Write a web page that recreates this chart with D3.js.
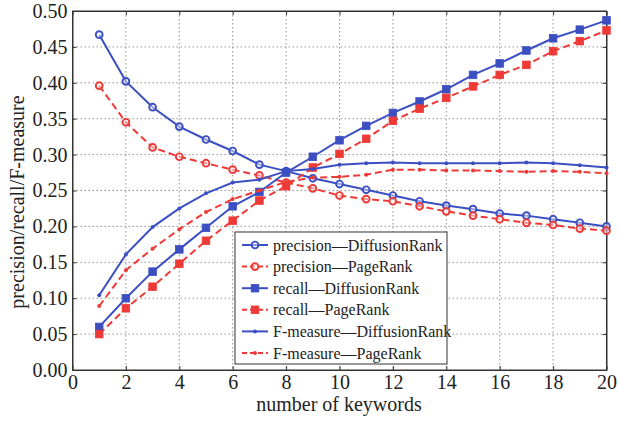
<!DOCTYPE html>
<html>
<head>
<meta charset="UTF-8">
<style>
  html, body { margin: 0; padding: 0; background: #fff; overflow: hidden; }
  svg { display: block; }
  svg text { font-family: "Liberation Serif", "DejaVu Serif", "Times New Roman", serif !important; }
</style>
</head>
<body>
<svg width="618" height="424"></svg>
<script src="https://d3js.org/d3.v7.min.js"></script>
<script>
const keywords = d3.range(1, 21);

const precisionDR = [0.467, 0.402, 0.366, 0.339, 0.321, 0.305, 0.286, 0.277, 0.267, 0.259,
                     0.251, 0.243, 0.235, 0.229, 0.224, 0.218, 0.215, 0.210, 0.205, 0.200];
const precisionPR = [0.396, 0.345, 0.310, 0.297, 0.288, 0.279, 0.271, 0.261, 0.253, 0.243,
                     0.238, 0.235, 0.228, 0.221, 0.215, 0.210, 0.205, 0.202, 0.197, 0.194];
const recallDR    = [0.060, 0.100, 0.137, 0.168, 0.198, 0.228, 0.248, 0.275, 0.297, 0.320,
                     0.340, 0.358, 0.374, 0.391, 0.411, 0.427, 0.445, 0.462, 0.474, 0.487];
const recallPR    = [0.050, 0.086, 0.116, 0.148, 0.180, 0.208, 0.236, 0.256, 0.282, 0.301,
                     0.322, 0.347, 0.364, 0.379, 0.395, 0.411, 0.425, 0.444, 0.458, 0.473];
const fmeasureDR  = [0.104, 0.161, 0.199, 0.225, 0.246, 0.261, 0.265, 0.277, 0.280, 0.286,
                     0.288, 0.289, 0.288, 0.288, 0.288, 0.288, 0.289, 0.288, 0.285, 0.282];
const fmeasurePR  = [0.089, 0.139, 0.169, 0.196, 0.220, 0.238, 0.250, 0.262, 0.268, 0.269,
                     0.272, 0.279, 0.279, 0.278, 0.278, 0.277, 0.276, 0.277, 0.276, 0.274];

const xTicks = d3.range(0, 21, 2);
const yTicks = d3.range(0, 0.501, 0.05);

const blue = "#3c4fc2";
const red = "#ee3a36";

const series = [
  { name: "precision\u2014DiffusionRank", values: precisionDR, color: blue, dash: null, marker: "circle" },
  { name: "precision\u2014PageRank", values: precisionPR, color: red, dash: "7,4", marker: "circle" },
  { name: "recall\u2014DiffusionRank", values: recallDR, color: blue, dash: null, marker: "square" },
  { name: "recall\u2014PageRank", values: recallPR, color: red, dash: "7,4", marker: "square" },
  { name: "F-measure\u2014DiffusionRank", values: fmeasureDR, color: blue, dash: null, marker: "dot" },
  { name: "F-measure\u2014PageRank", values: fmeasurePR, color: red, dash: "7,4", marker: "dot" }
];

const svg = d3.select("svg");
const plotL = 72.5, plotR = 606.5, plotT = 11, plotB = 370;

const x = d3.scaleLinear().domain([0, 20]).range([plotL, plotR]);
const y = d3.scaleLinear().domain([0, 0.5]).range([plotB, plotT]);

// grid
const grid = svg.append("g").attr("stroke", "#777").attr("stroke-width", 0.8).attr("stroke-dasharray", "1.5,2.5");
xTicks.slice(1, -1).forEach(t => {
  grid.append("line").attr("x1", x(t)).attr("x2", x(t)).attr("y1", plotT).attr("y2", plotB);
});
yTicks.slice(1, -1).forEach(t => {
  grid.append("line").attr("x1", plotL).attr("x2", plotR).attr("y1", y(t)).attr("y2", y(t));
});

// axes
const xAxis = svg.append("g").attr("transform", `translate(0,${plotB})`)
  .call(d3.axisBottom(x).tickValues(xTicks).tickSizeInner(-4).tickSizeOuter(0).tickPadding(5).tickFormat(d3.format("d")));
const yAxis = svg.append("g").attr("transform", `translate(${plotL},0)`)
  .call(d3.axisLeft(y).tickValues(yTicks).tickSizeInner(-4).tickSizeOuter(0).tickPadding(5).tickFormat(d3.format(".2f")));
svg.append("g").attr("transform", `translate(0,${plotT})`)
  .call(d3.axisTop(x).tickValues(xTicks).tickSizeInner(-4).tickSizeOuter(0).tickFormat(""));
svg.append("g").attr("transform", `translate(${plotR},0)`)
  .call(d3.axisRight(y).tickValues(yTicks).tickSizeInner(-4).tickSizeOuter(0).tickFormat(""));
svg.selectAll(".domain").attr("stroke", "#333");
svg.selectAll(".tick line").attr("stroke", "#333");
xAxis.selectAll("text").attr("font-size", 20).attr("fill", "#222");
yAxis.selectAll("text").attr("font-size", 20).attr("fill", "#222");
svg.append("rect").attr("x", plotL).attr("y", plotT).attr("width", plotR - plotL).attr("height", plotB - plotT)
  .attr("fill", "none").attr("stroke", "#333").attr("stroke-width", 1);

// series
const line = d3.line().x((d, i) => x(keywords[i])).y(d => y(d));

function drawMarker(g, type, cx, cy, color) {
  if (type === "circle") {
    g.append("circle").attr("cx", cx).attr("cy", cy).attr("r", 3.4)
      .attr("fill", "#fff").attr("fill-opacity", 0.45).attr("stroke", color).attr("stroke-width", 1.9);
  } else if (type === "square") {
    g.append("rect").attr("x", cx - 3.8).attr("y", cy - 3.8).attr("width", 7.6).attr("height", 7.6)
      .attr("fill", color).attr("stroke", color).attr("stroke-width", 0.8);
  } else {
    g.append("circle").attr("cx", cx).attr("cy", cy).attr("r", 2).attr("fill", color);
  }
}

series.forEach(s => {
  const g = svg.append("g");
  g.append("path").datum(s.values).attr("d", line)
    .attr("fill", "none").attr("stroke", s.color).attr("stroke-width", 2)
    .attr("stroke-dasharray", s.dash);
  s.values.forEach((v, i) => drawMarker(g, s.marker, x(keywords[i]), y(v), s.color));
});

// legend
const lg = svg.append("g").attr("transform", "translate(235,232)");
lg.append("rect").attr("width", 212).attr("height", 132).attr("fill", "#fff").attr("stroke", "#333").attr("stroke-width", 1);
series.forEach((s, i) => {
  const ly = 13 + i * 21.6;
  lg.append("line").attr("x1", 7).attr("x2", 33).attr("y1", ly).attr("y2", ly)
    .attr("stroke", s.color).attr("stroke-width", 2).attr("stroke-dasharray", s.dash ? "5,3" : null);
  drawMarker(lg, s.marker, 20, ly, s.color);
  lg.append("text").attr("x", 38).attr("y", ly).attr("dy", "0.35em")
    .attr("font-size", 16).attr("fill", "#222").text(s.name);
});

// axis titles
svg.append("text").attr("x", 339).attr("y", 411).attr("text-anchor", "middle")
  .attr("font-size", 20).attr("fill", "#222").text("number of keywords");
svg.append("text").attr("transform", "translate(24,202) rotate(-90)").attr("text-anchor", "middle")
  .attr("font-size", 20).attr("fill", "#222").text("precision/recall/F-measure");
</script>
</body>
</html>
